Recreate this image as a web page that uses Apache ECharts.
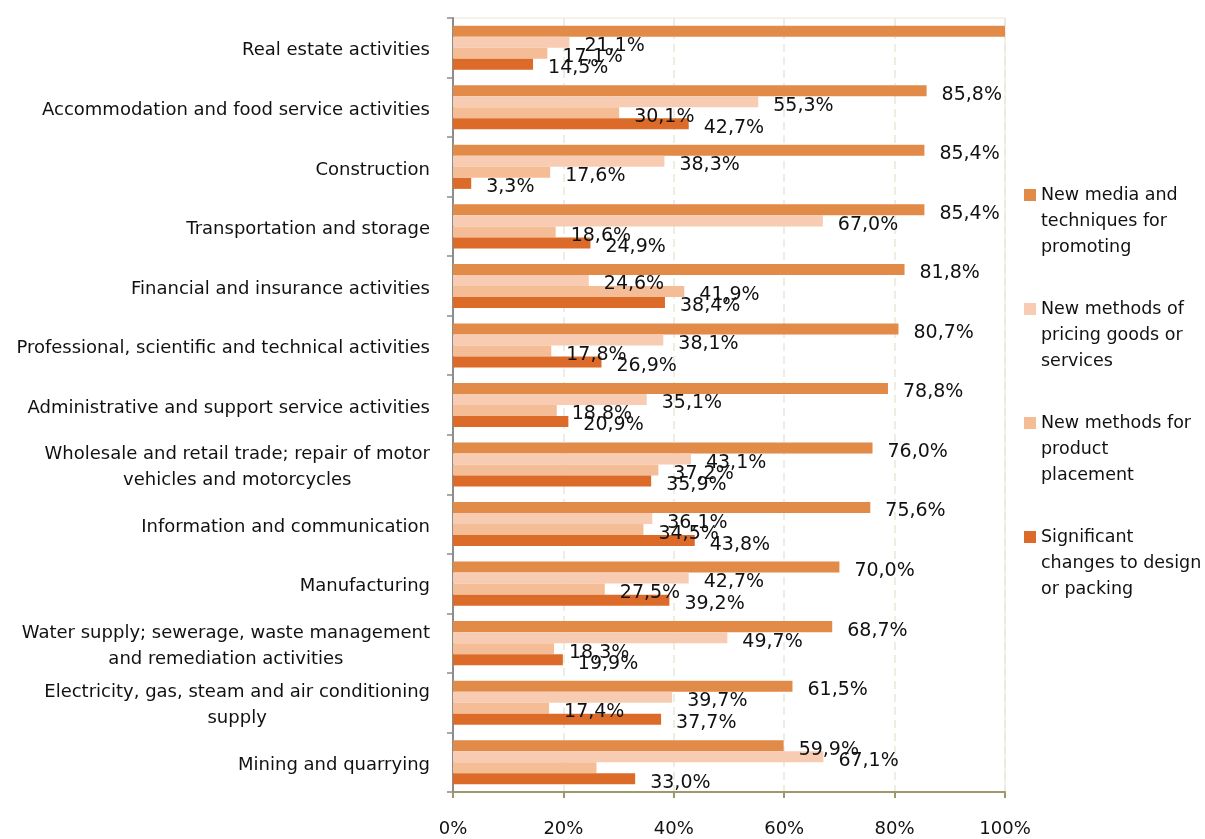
<!DOCTYPE html>
<html>
<head>
<meta charset="utf-8">
<script src="https://cdn.jsdelivr.net/npm/echarts@6/dist/echarts.min.js"></script>
<style>
  html, body { margin: 0; padding: 0; background: #ffffff; }
  #chart { width: 1205px; height: 839px; }
</style>
</head>
<body>
<div id="chart"></div>
<script>
// Sectors, top to bottom
const categories = [
  'Real estate activities',
  'Accommodation and food service activities',
  'Construction',
  'Transportation and storage',
  'Financial and insurance activities',
  'Professional, scientific and technical activities',
  'Administrative and support service activities',
  'Wholesale and retail trade; repair of motor\nvehicles and motorcycles',
  'Information and communication',
  'Manufacturing',
  'Water supply; sewerage, waste management\nand remediation activities',
  'Electricity, gas, steam and air conditioning\nsupply',
  'Mining and quarrying'
];

// Share of enterprises (%) per type of marketing innovation
const promoting = [100, 85.8, 85.4, 85.4, 81.8, 80.7, 78.8, 76.0, 75.6, 70.0, 68.7, 61.5, 59.9];
const pricing   = [21.1, 55.3, 38.3, 67.0, 24.6, 38.1, 35.1, 43.1, 36.1, 42.7, 49.7, 39.7, 67.1];
const placement = [17.1, 30.1, 17.6, 18.6, 41.9, 17.8, 18.8, 37.2, 34.5, 27.5, 18.3, 17.4, 26.0];
const design    = [14.5, 42.7, 3.3, 24.9, 38.4, 26.9, 20.9, 35.9, 43.8, 39.2, 19.9, 37.7, 33.0];

const seriesNames = [
  'New media and techniques for promoting',
  'New methods of pricing goods or services',
  'New methods for product placement',
  'Significant changes to design or packing'
];
const legendLines = {
  'New media and techniques for promoting': ['New media and', 'techniques for', 'promoting'],
  'New methods of pricing goods or services': ['New methods of', 'pricing goods or', 'services'],
  'New methods for product placement': ['New methods for', 'product', 'placement'],
  'Significant changes to design or packing': ['Significant', 'changes to design', 'or packing']
};

const xTicks = [0, 20, 40, 60, 80, 100];

// Labels that are not printed: [series index, category index]
const hiddenLabels = [[0, 0], [2, 12]];

const colors = ['#E28A48', '#F7CCB3', '#F5BD95', '#DC6B29'];
const font = 'DejaVu Sans';

function fmtPct(v) {
  return v.toFixed(1).replace('.', ',') + '%';
}

const seriesValues = [promoting, pricing, placement, design];

const series = seriesValues.map(function (vals, si) {
  return {
    name: seriesNames[si],
    type: 'bar',
    barGap: '0%',
    barCategoryGap: '26%',
    itemStyle: { color: colors[si] },
    label: {
      show: true,
      position: 'right',
      distance: 5,
      offset: [10, 4],
      color: '#111',
      fontFamily: font,
      fontSize: 19,
      formatter: function (p) {
        for (let k = 0; k < hiddenLabels.length; k++) {
          if (hiddenLabels[k][0] === si && hiddenLabels[k][1] === p.dataIndex) return '';
        }
        return fmtPct(p.value);
      }
    },
    data: vals
  };
});

const chart = echarts.init(document.getElementById('chart'), null, { renderer: 'canvas' });

chart.setOption({
  backgroundColor: '#ffffff',
  animation: false,
  grid: {
    left: 453,
    right: 200,
    top: 18,
    bottom: 47,
    show: true,
    borderColor: '#e6e6d8',
    borderWidth: 1
  },
  legend: {
    orient: 'vertical',
    left: 1024,
    top: 130,
    padding: 0,
    itemWidth: 12,
    itemHeight: 12,
    itemGap: -16,
    icon: 'rect',
    data: seriesNames,
    textStyle: {
      fontFamily: font,
      fontSize: 17.5,
      lineHeight: 26,
      color: '#111'
    },
    // two empty lines in front keep the swatch level with the first text line
    formatter: function (name) {
      return '\n\n' + legendLines[name].join('\n');
    }
  },
  xAxis: {
    type: 'value',
    min: 0,
    max: 100,
    interval: 20,
    axisLine: { show: true, lineStyle: { color: '#9c996b', width: 2 } },
    axisTick: { show: true, length: 6, lineStyle: { color: '#9c996b', width: 2 } },
    axisLabel: {
      margin: 28,
      color: '#111',
      fontFamily: font,
      fontSize: 18,
      formatter: function (v) { return xTicks.indexOf(v) >= 0 ? v + '%' : ''; }
    },
    splitLine: {
      show: true,
      lineStyle: { color: '#e8e7d9', width: 1.5, type: [8, 5] }
    }
  },
  yAxis: {
    type: 'category',
    inverse: true,
    data: categories,
    axisLine: { show: true, lineStyle: { color: '#8c8c8c', width: 2 } },
    axisTick: { show: true, length: 6, lineStyle: { color: '#8c8c8c', width: 1.5 } },
    axisLabel: {
      margin: 23,
      color: '#111',
      fontFamily: font,
      fontSize: 18,
      lineHeight: 26,
      padding: [6, 0, 0, 0],
      formatter: function (v) {
        return v.split('\n').map(function (l) { return '{c|' + l + '}'; }).join('\n');
      },
      rich: {
        c: {
          align: 'center',
          fontFamily: font,
          fontSize: 18,
          lineHeight: 26,
          color: '#111'
        }
      }
    },
    splitLine: { show: false }
  },
  series: series
});
</script>
</body>
</html>
